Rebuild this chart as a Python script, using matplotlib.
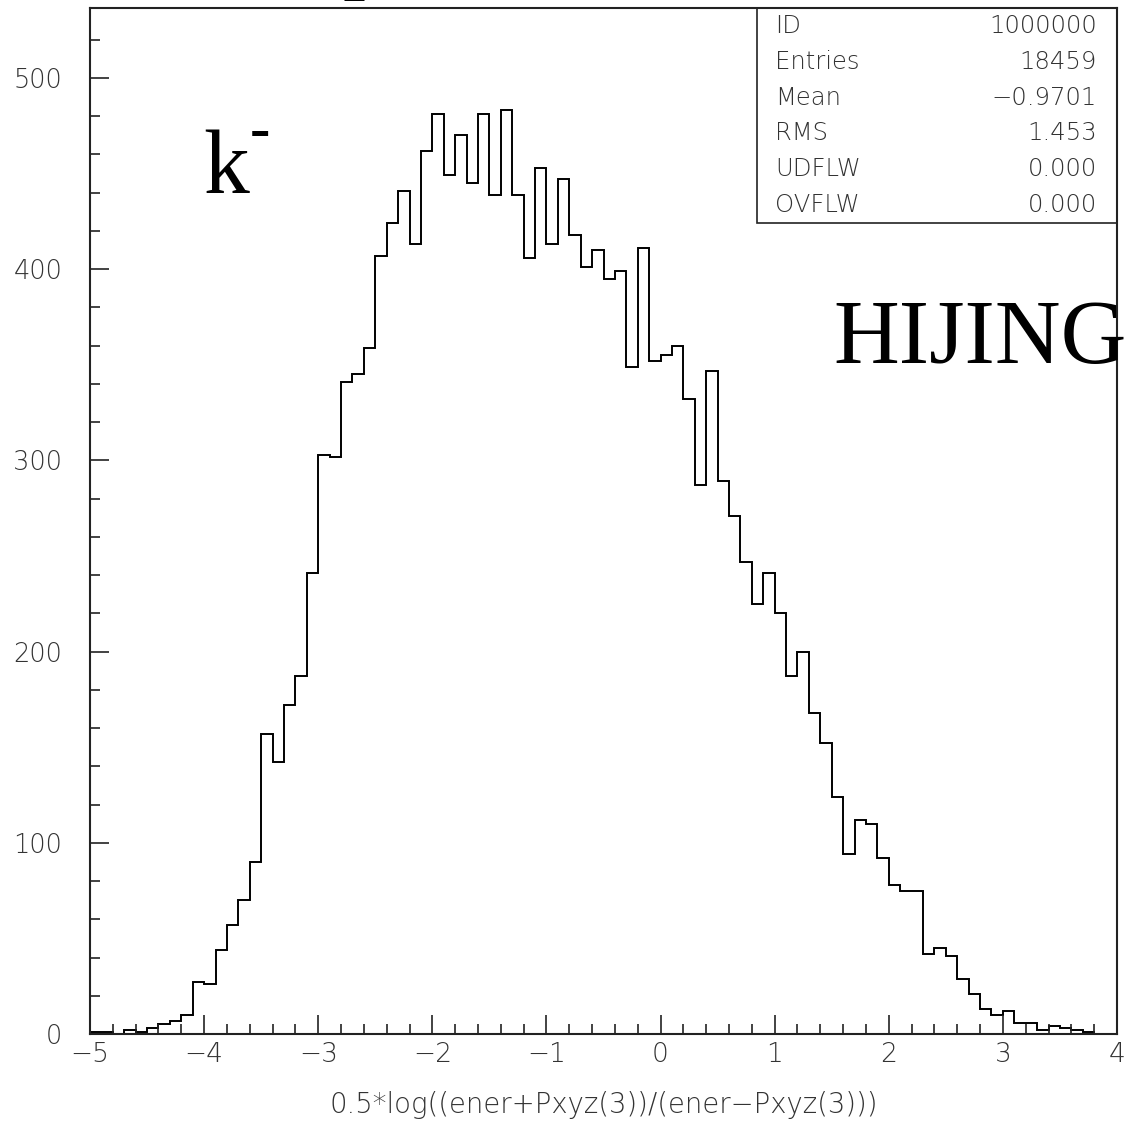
import numpy as np
import matplotlib.pyplot as plt
from matplotlib.ticker import MultipleLocator

# rapidity histogram, 90 bins of 0.1 from -5 to 4
edges = np.round(np.arange(-5.0, 4.0001, 0.1), 2)
counts = [1, 1, 0, 2, 1, 3, 5, 7, 10, 27,
          26, 44, 57, 70, 90, 157, 142, 172, 187, 241,
          303, 302, 341, 345, 359, 407, 424, 441, 413, 462,
          481, 449, 470, 445, 481, 439, 483, 439, 406, 453,
          413, 447, 418, 401, 410, 395, 399, 349, 411, 352,
          355, 360, 332, 287, 347, 289, 271, 247, 225, 241,
          220, 187, 200, 168, 152, 124, 94, 112, 110, 92,
          78, 75, 75, 42, 45, 41, 29, 21, 13, 10,
          12, 6, 6, 2, 4, 3, 2, 1, 0, 0]

stat_names = ['ID', 'Entries', 'Mean', 'RMS', 'UDFLW', 'OVFLW']
stat_values = ['1000000', '18459', '\u22120.9701', '1.453', '0.000', '0.000']

W, H = 1134, 1139
fig = plt.figure(figsize=(W / 100, H / 100), dpi=100)

def fx(px):
    return px / W

def fy(py):
    return 1 - py / H

ax = fig.add_axes([fx(90), 1 - 1034 / H, (1117 - 90) / W, (1034 - 8) / H])
ax.stairs(counts, edges, color='black', linewidth=1.4)
ax.set_xlim(-5, 4)
ax.set_ylim(0, 536.6)

ax.xaxis.set_major_locator(MultipleLocator(1))
ax.xaxis.set_minor_locator(MultipleLocator(0.2))
ax.yaxis.set_major_locator(MultipleLocator(100))
ax.yaxis.set_minor_locator(MultipleLocator(20))
ax.tick_params(which='both', direction='in', top=False, right=False,
               color='#222222', width=1.2)
ax.tick_params(which='major', length=14)
ax.tick_params(which='minor', length=7)
ax.tick_params(axis='x', which='major', pad=6, labelsize=19, labelcolor='#333333')
ax.tick_params(axis='y', which='major', pad=20, labelsize=18.5, labelcolor='#333333')
for lab in ax.get_xticklabels() + ax.get_yticklabels():
    lab.set_fontweight('light')
for s in ax.spines.values():
    s.set_linewidth(1.5)
    s.set_color('#222222')

ax.set_xlabel('0.5*log((ener+Pxyz(3))/(ener\u2212Pxyz(3)))', fontsize=19.8,
              color='#333333', labelpad=17, fontweight='light')

# statistics box in the upper right corner
box_left = 757
fig.patches.append(plt.Rectangle((fx(box_left), fy(223)), fx(1117) - fx(box_left),
                                 fy(8) - fy(223), transform=fig.transFigure,
                                 fill=False, edgecolor='#222222', linewidth=1.2))
for i, (name, val) in enumerate(zip(stat_names, stat_values)):
    yc = fy(26 + 35.8 * i)
    fig.text(fx(775), yc, name, ha='left', va='center', fontsize=17.5,
             color='#333333', fontweight='light')
    fig.text(fx(1097), yc, val, ha='right', va='center', fontsize=17.5,
             color='#333333', fontweight='light')

serif = 'Liberation Serif'
fig.text(fx(203), fy(193), 'k', family=serif, fontsize=66, ha='left', va='baseline')
fig.text(fx(250), fy(148), '-', family=serif, fontsize=44, fontweight='bold',
         ha='left', va='baseline')
fig.text(fx(833), fy(363), 'HIJING', family=serif, fontsize=65.5, ha='left',
         va='baseline')
# title above the frame, only its lowest stroke falls inside the figure
fig.text(fx(343), fy(-18), 'p', family=serif, fontsize=66, ha='left', va='baseline')

fig.savefig('out.png', dpi=100)
